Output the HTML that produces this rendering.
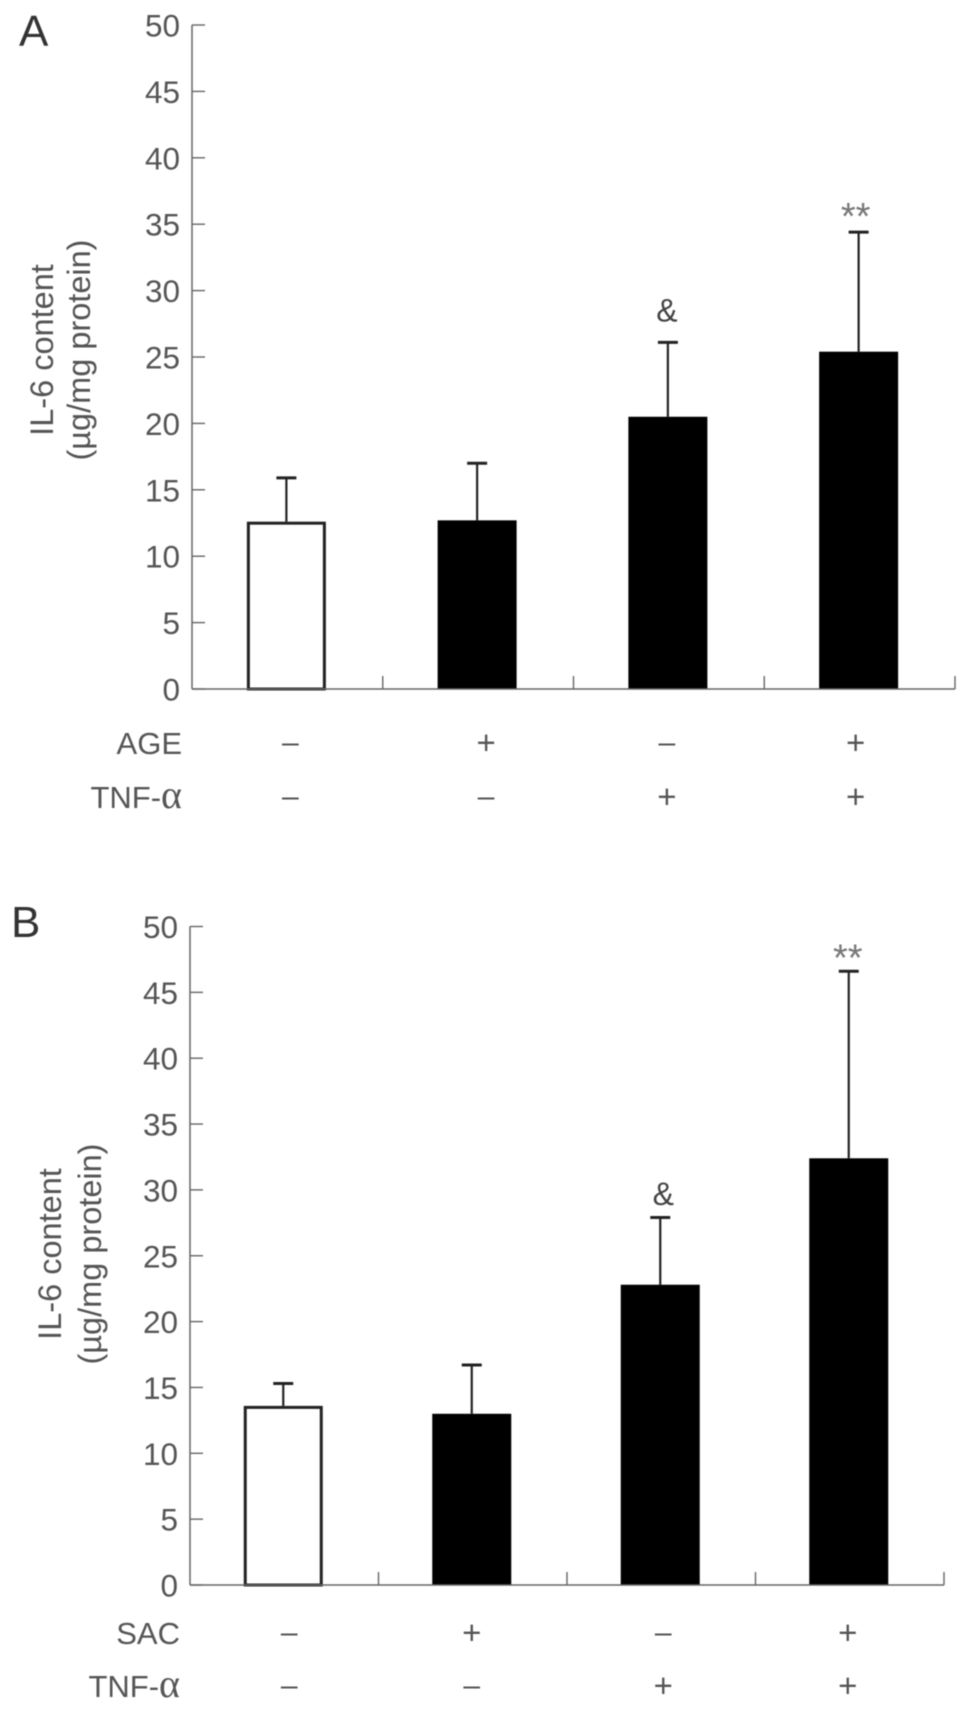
<!DOCTYPE html>
<html>
<head>
<meta charset="utf-8">
<title>IL-6 content bar charts</title>
<style>
html,body{margin:0;padding:0;background:#fff;}
svg{display:block;filter:blur(0.55px);}
text{font-family:"Liberation Sans",sans-serif;fill:#555;}
</style>
</head>
<body>
<svg id="figure" width="969" height="1709" viewBox="0 0 969 1709" xmlns="http://www.w3.org/2000/svg"></svg>
<script>
const yTickLabels = [0, 5, 10, 15, 20, 25, 30, 35, 40, 45, 50];
const yMax = 50;
const categoryNames = ['control', 'treatment', 'tnf', 'combined'];
const fillColors = ['#fff', '#000', '#000', '#000'];

const valuesA = [12.6, 12.7, 20.5, 25.4];
const errorTopsA = [15.9, 17.0, 26.1, 34.4];
const annotationsA = ['', '', '&', '**'];
const treatmentRowA = ['–', '+', '–', '+'];
const tnfRowA = ['–', '–', '+', '+'];

const valuesB = [13.6, 13.0, 22.8, 32.4];
const errorTopsB = [15.3, 16.7, 27.9, 46.6];
const annotationsB = ['', '', '&', '**'];
const treatmentRowB = ['–', '+', '–', '+'];
const tnfRowB = ['–', '–', '+', '+'];

const NS = 'http://www.w3.org/2000/svg';
const figure = document.getElementById('figure');

function make(parent, tag, attrs, content) {
  const el = document.createElementNS(NS, tag);
  for (const k in attrs) el.setAttribute(k, attrs[k]);
  if (content !== undefined) el.textContent = content;
  parent.appendChild(el);
  return el;
}

function drawPanel(p) {
  const yScale = v => p.y0 - (v / yMax) * (p.y0 - p.y50);
  const band = (p.xEnd - p.x0) / categoryNames.length;
  const xScale = i => p.x0 + band * (i + 0.5) + p.barShift;

  const g = make(figure, 'g', {});
  
  

  const letter = make(g, 'text', {x: p.letterX, y: p.letterY, 'font-size': 44, style: 'fill:#333'}, p.id.toUpperCase());
  
  

  categoryNames.forEach((name, i) => {
    const cx = xScale(i);
    const top = yScale(p.values[i]);
    const errTop = yScale(p.errorTops[i]);

    const stem = make(g, 'line', {x1: cx, x2: cx, y1: top, y2: errTop, stroke: '#222', 'stroke-width': 2.2});
    
    

    const cap = make(g, 'line', {x1: cx - 10, x2: cx + 10, y1: errTop, y2: errTop, stroke: '#222', 'stroke-width': 3});
    
    

    const white = fillColors[i] === '#fff';
    const inset = white ? 1.5 : 0;
    const bar = make(g, 'rect', {
      x: cx - p.barWidth / 2 + inset,
      y: top + inset,
      width: p.barWidth - 2 * inset,
      height: p.y0 - top - inset,
      fill: fillColors[i],
      stroke: white ? '#222' : 'none',
      'stroke-width': white ? 3 : 0
    });
    
    

    if (p.annotations[i]) {
      const star = p.annotations[i] === '**';
      const ann = make(g, 'text', {
        x: cx + p.nudge[i],
        y: errTop + (star ? p.starDy : p.ampDy),
        'text-anchor': 'middle',
        'font-size': star ? 38 : 32,
        style: star ? 'fill:#777' : 'fill:#444'
      }, p.annotations[i]);
      
      
    }

    const plus1 = p.treatmentRow[i] === '+';
    const rowA = make(g, 'text', {
      x: cx + p.nudge[i], y: p.rowY1 + (plus1 ? 11 : 9), 'text-anchor': 'middle',
      'font-size': plus1 ? 33 : 30
    }, p.treatmentRow[i]);
    
    

    const plus2 = p.tnfRow[i] === '+';
    const rowB = make(g, 'text', {
      x: cx + p.nudge[i], y: p.rowY2 + (plus2 ? 11 : 9), 'text-anchor': 'middle',
      'font-size': plus2 ? 33 : 30
    }, p.tnfRow[i]);
    
    

    const xt = p.x0 + band * (i + 1);
    const xTick = make(g, 'line', {x1: xt, x2: xt, y1: p.y0, y2: p.y0 - 13, stroke: '#666', 'stroke-width': 1.4});
    
    
  });

  const yAxis = make(g, 'line', {x1: p.x0, x2: p.x0, y1: p.y50, y2: p.y0, stroke: '#666', 'stroke-width': 1.5});
  
  

  const xAxis = make(g, 'line', {x1: p.x0, x2: p.xEnd, y1: p.y0, y2: p.y0, stroke: '#666', 'stroke-width': 1.6});
  
  

  yTickLabels.forEach(v => {
    const y = yScale(v);
    const tick = make(g, 'line', {x1: p.x0, x2: p.x0 + 13, y1: y, y2: y, stroke: '#666', 'stroke-width': 1.4});
    
    
    const lab = make(g, 'text', {x: p.x0 - 12, y: y + 11.5, 'text-anchor': 'end', 'font-size': 31.5}, String(v));
    
    
  });

  const t1 = make(g, 'text', {
    transform: 'translate(' + p.titleX1 + ',' + p.titleY + ') rotate(-90)',
    'text-anchor': 'middle', 'font-size': 32.5
  }, 'IL-6 content');
  
  

  const t2 = make(g, 'text', {
    transform: 'translate(' + p.titleX2 + ',' + p.titleY + ') rotate(-90)',
    'text-anchor': 'middle', 'font-size': 32.5
  }, '(µg/mg protein)');
  
  

  const rowLabel = make(g, 'text', {x: p.rowLabelX, y: p.rowY1 + 11, 'text-anchor': 'end', 'font-size': 31}, p.treatmentName);
  
  

  const tnfLabel = make(g, 'text', {x: p.rowLabelX, y: p.rowY2 + 11, 'text-anchor': 'end', 'font-size': 31}, 'TNF-');
  const alpha = make(tnfLabel, 'tspan', {style: 'font-family:"Liberation Serif",serif', 'font-size': 40}, 'α');
  
  
  
  
}

drawPanel({
  id: 'a', values: valuesA, errorTops: errorTopsA, annotations: annotationsA,
  treatmentRow: treatmentRowA, tnfRow: tnfRowA, treatmentName: 'AGE',
  x0: 192, xEnd: 955, y0: 689, y50: 25, barWidth: 79, barShift: -1,
  nudge: [4, 9, -1, -3], rowY1: 743, rowY2: 797, starDy: -3, ampDy: -21,
  titleX1: 53, titleX2: 90, titleY: 350, rowLabelX: 182, letterX: 19, letterY: 46
});

drawPanel({
  id: 'b', values: valuesB, errorTops: errorTopsB, annotations: annotationsB,
  treatmentRow: treatmentRowB, tnfRow: tnfRowB, treatmentName: 'SAC',
  x0: 190, xEnd: 944, y0: 1585, y50: 926.5, barWidth: 79, barShift: -1,
  nudge: [6, 0, 3, -1], rowY1: 1633, rowY2: 1686, starDy: -1, ampDy: -12.5,
  titleX1: 61, titleX2: 101, titleY: 1254, rowLabelX: 180, letterX: 11, letterY: 937
});
</script>
</body>
</html>
